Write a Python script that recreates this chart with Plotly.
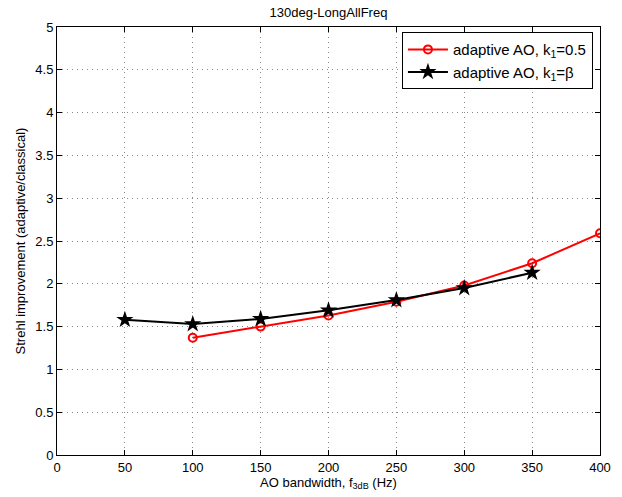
import plotly.graph_objects as go

red_x = [100, 150, 200, 250, 300, 350, 400]
red_y = [1.37, 1.50, 1.63, 1.79, 1.98, 2.24, 2.59]
black_x = [50, 100, 150, 200, 250, 300, 350]
black_y = [1.58, 1.53, 1.59, 1.69, 1.81, 1.95, 2.13]
x_ticks = [0, 50, 100, 150, 200, 250, 300, 350, 400]
y_ticks = [0, 0.5, 1, 1.5, 2, 2.5, 3, 3.5, 4, 4.5, 5]
y_tick_text = ["0", "0.5", "1", "1.5", "2", "2.5", "3", "3.5", "4", "4.5", "5"]

fig = go.Figure()
fig.add_trace(go.Scatter(
    x=red_x, y=red_y, mode="lines+markers",
    name="adaptive AO, k<sub>1</sub>=0.5",
    line=dict(color="red", width=2),
    marker=dict(symbol="circle-open", size=8, color="red", line=dict(width=2)),
))
fig.add_trace(go.Scatter(
    x=black_x, y=black_y, mode="lines+markers",
    name="adaptive AO, k<sub>1</sub>=β",
    line=dict(color="black", width=2),
    marker=dict(symbol="star", size=13, color="black"),
))

axis_common = dict(
    showline=True, linecolor="black", linewidth=1, mirror="ticks",
    ticks="inside", ticklen=5, tickcolor="black",
    showgrid=True, gridcolor="#8a8a8a", griddash="1px,4px", gridwidth=1,
    zeroline=False, tickfont=dict(size=13, color="black"),
)
fig.update_xaxes(range=[0, 400], tickvals=x_ticks,
                 title=dict(text="AO bandwidth, f<sub>3dB</sub> (Hz)", font=dict(size=13, color="black"), standoff=2),
                 **axis_common)
fig.update_yaxes(range=[0, 5], tickvals=y_ticks, ticktext=y_tick_text,
                 title=dict(text="Strehl improvement (adaptive/classical)", font=dict(size=13, color="black"), standoff=6),
                 **axis_common)

fig.update_layout(
    width=622, height=497,
    margin=dict(l=57, r=22, t=27, b=42),
    paper_bgcolor="white", plot_bgcolor="white",
    font=dict(family="Liberation Sans, Arial, sans-serif", size=13, color="black"),
    title=dict(text="130deg-LongAllFreq", x=0.5, xref="paper", y=0.985, yanchor="top",
               font=dict(size=13, color="black")),
    legend=dict(x=0.987, y=0.988, xanchor="right", yanchor="top",
                bordercolor="black", borderwidth=1, bgcolor="white",
                font=dict(size=15, color="black"), itemwidth=40),
    showlegend=True,
)
fig.write_html("out.html")
